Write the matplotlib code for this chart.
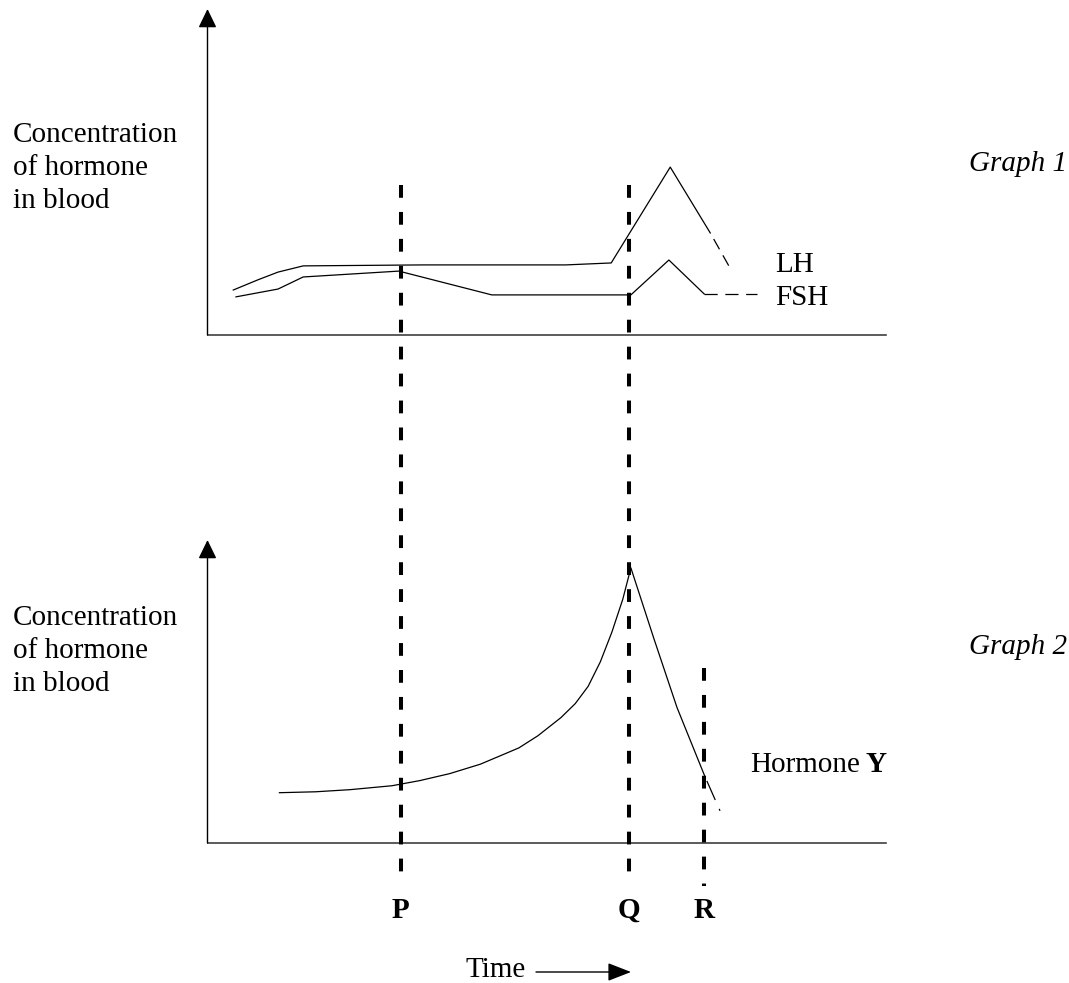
import matplotlib
matplotlib.use("Agg")
import matplotlib.pyplot as plt
from matplotlib import transforms
from matplotlib.patches import FancyArrowPatch

# ===================
# 0) Datos (tiempo y concentracion en unidades relativas 0-100)
# ===================

time_lh = [3.8, 7.4, 10.4, 14.1, 31.8, 52.8, 59.5, 68.2, 74.1]
conc_lh = [13.8, 16.9, 19.3, 21.2, 21.5, 21.5, 22.1, 51.5, 31.3]
time_lh_tail = [74.1, 77.0]
conc_lh_tail = [31.3, 20.6]

time_fsh = [4.2, 10.4, 14.1, 28.2, 41.9, 62.4, 68.0, 73.2]
conc_fsh = [11.7, 14.1, 17.8, 19.6, 12.3, 12.3, 23.0, 12.6]
time_fsh_tail = [73.2, 81.0]
conc_fsh_tail = [12.6, 12.6]

time_y = [10.6, 15.9, 21.0, 27.2, 31.3, 35.7, 40.2, 43.8, 45.9, 48.7, 52.1,
          54.2, 56.1, 57.9, 59.6, 61.2, 62.4, 65.8, 69.2, 73.3]
conc_y = [16.6, 16.9, 17.6, 18.9, 20.6, 22.9, 26.0, 29.4, 31.4, 35.4, 41.4,
          46.0, 51.7, 59.8, 69.6, 80.4, 90.8, 67.4, 44.7, 22.0]
time_y_tail = [73.3, 75.7]
conc_y_tail = [22.0, 9.8]

event_labels = ["P", "Q", "R"]
event_times = [28.5, 62.1, 73.2]

# ===================
# 1) Figura
# ===================

W, H = 1069, 983
plt.rcParams["font.family"] = ["Liberation Serif", "DejaVu Serif"]
plt.rcParams["lines.scale_dashes"] = False
FS = 21
LS = 1.35

fig = plt.figure(figsize=(W / 100, H / 100), dpi=100)


def px_axes(x0, x1, y_base, y_tip):
    # posicion de un eje en pixeles de la imagen
    return fig.add_axes([x0 / W, 1 - y_base / H, (x1 - x0) / W, (y_base - y_tip) / H])


ax1 = px_axes(207.5, 886, 335, 9)
ax2 = px_axes(207.5, 886, 843, 540)

for ax in (ax1, ax2):
    ax.set_xlim(0, 100)
    ax.set_ylim(0, 100)
    ax.axis("off")
    ax.patch.set_alpha(0)
    ax.plot([0, 100], [0, 0], color="#404040", lw=1.2, clip_on=False)
    ax.annotate("", xy=(0, 100), xytext=(0, 0),
                arrowprops=dict(arrowstyle="-|>,head_length=0.72,head_width=0.35",
                                mutation_scale=16, color="black", lw=1.0,
                                shrinkA=0, shrinkB=0))

# ===================
# 2) Curvas
# ===================

ax1.plot(time_lh, conc_lh, color="black", lw=0.9)
ax1.plot(time_lh_tail, conc_lh_tail, color="black", lw=0.9, linestyle=(8.5, (8.5, 5)))
ax1.plot(time_fsh, conc_fsh, color="black", lw=0.9)
ax1.plot(time_fsh_tail, conc_fsh_tail, color="black", lw=0.9, linestyle=(0, (9.5, 5.5)))

ax2.plot(time_y, conc_y, color="black", lw=0.9)
ax2.plot(time_y_tail, conc_y_tail, color="black", lw=0.9,
         linestyle=(23.5, (15, 7, 1.5, 3.6)))

# ===================
# 3) Lineas verticales P, Q, R y etiquetas
# ===================

trans = transforms.blended_transform_factory(ax2.transData, fig.transFigure)
line_tops = [185, 185, 668]
line_bottoms = [873, 873, 886]
for t, lab, top, bot in zip(event_times, event_labels, line_tops, line_bottoms):
    ax2.plot([t, t], [1 - top / H, 1 - bot / H], transform=trans, color="black",
             lw=2.9, linestyle=(0, (9.2, 10.2)), dash_capstyle="butt", clip_on=False)
    ax2.text(t, 1 - 918 / H, lab, transform=trans, ha="center", va="baseline",
             fontsize=FS, fontweight="bold")

# ===================
# 4) Textos
# ===================

ylabel = "Concentration\nof hormone\nin blood"
# va="baseline" alinea la ultima linea, por eso se suma el salto de 2 lineas
step = 33
fig.text(13 / W, 1 - (142 + 2 * step) / H, ylabel, fontsize=FS, va="baseline", linespacing=LS)
fig.text(13 / W, 1 - (625 + 2 * step) / H, ylabel, fontsize=FS, va="baseline", linespacing=LS)

fig.text(969 / W, 1 - 171 / H, "Graph 1", fontsize=FS, style="italic", va="baseline")
fig.text(969 / W, 1 - 654 / H, "Graph 2", fontsize=FS, style="italic", va="baseline")

fig.text(775 / W, 1 - 272 / H, "LH", fontsize=FS, va="baseline")
fig.text(775 / W, 1 - 305 / H, "FSH", fontsize=FS, va="baseline")

hy = fig.text(750 / W, 1 - 772 / H, "Hormone", fontsize=FS, va="baseline")
ax2.annotate("Y", xy=(1, 0), xycoords=hy, xytext=(6, 0), textcoords="offset pixels",
             fontsize=FS, fontweight="bold", va="bottom", ha="left")

fig.text(465 / W, 1 - 977 / H, "Time", fontsize=FS, va="baseline")
fig.add_artist(FancyArrowPatch(
    (536 / W, 1 - 972 / H), (631 / W, 1 - 972 / H), transform=fig.transFigure,
    arrowstyle="-|>,head_length=0.9,head_width=0.35", mutation_scale=16,
    color="black", lw=1.0, shrinkA=0, shrinkB=0))

fig.savefig("out.png", dpi=100)
